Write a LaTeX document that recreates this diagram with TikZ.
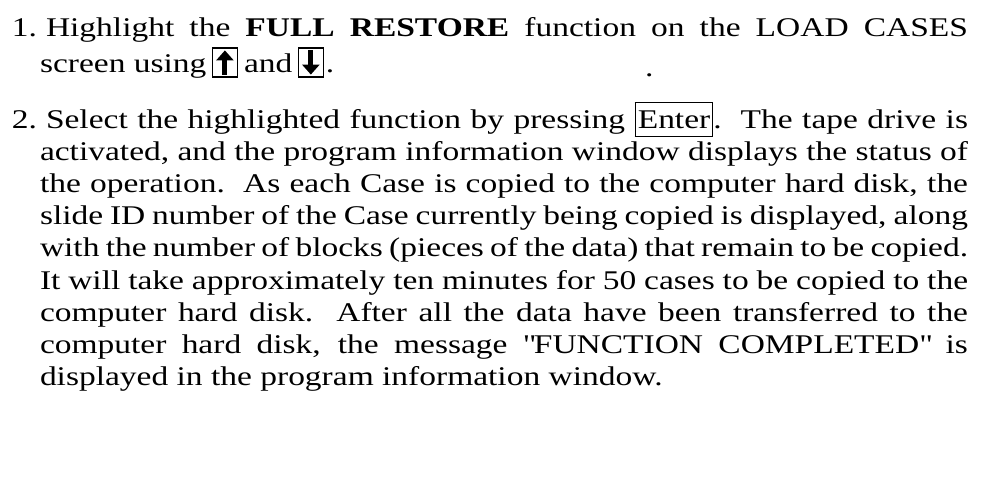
\documentclass[tikz,border=0pt]{standalone}
\usepackage{fontspec}
\setmainfont[FakeStretch=1.24]{Liberation Serif}
\usepackage{tikz}
\usetikzlibrary{arrows.meta,positioning,calc}

\newcommand{\enterkey}{{\setlength{\fboxsep}{2pt}\setlength{\fboxrule}{1.2pt}\fbox{\rule[-6pt]{0pt}{29pt}Enter}}}

\tikzset{
    txtline/.style={inner sep=0pt, outer sep=0pt, anchor=base west, font=\fontsize{27}{32}\selectfont},
    keybox/.style={draw, line width=1.2pt, inner sep=0pt, minimum width=25pt, minimum height=29pt},
    keyarrow/.style={line width=5pt, -{Triangle[width=17pt, length=10pt]}}
}

\begin{document}
\begin{tikzpicture}[x=1pt, y=-1pt]
    \fill[white] (0,0) rectangle (1000,483);

    % Step 1
    \node[txtline] (num1) at (12,36) {1.};
    \node[txtline] (item1) at (46,36) {\makebox[922pt][s]{Highlight the \textbf{FULL RESTORE} function on the LOAD CASES}};
    \node[txtline] (scr) at (40,72) {screen using};
    \node[keybox] (upkey) at ($(scr.base east)+(18.5,-9.5)$) {};
    \draw[keyarrow] ($(upkey.south)+(0,-3)$) -- ($(upkey.north)+(0,3)$);
    \node[txtline] (andw) at ($(upkey.east |- scr.base)+(6,0)$) {and};
    \node[keybox] (downkey) at ($(andw.base east)+(18.5,-9.5)$) {};
    \draw[keyarrow] ($(downkey.north)+(0,3)$) -- ($(downkey.south)+(0,-3)$);
    \node[txtline] (stop1) at ($(downkey.east |- scr.base)+(2,0)$) {.};
    \node[txtline] (speck) at (645,76) {.};

    % Step 2
    \node[txtline] (num2) at (12,128) {2.};
    \node[txtline] (sel) at (46,128) {\makebox[922pt][s]{Select the highlighted function by pressing \enterkey.\ \ The tape drive is}};
    \node[txtline] (act) at (40,160) {\makebox[928pt][s]{activated, and the program information window displays the status of}};
    \node[txtline] (oper) at (40,192) {\makebox[928pt][s]{the operation.\ \ As each Case is copied to the computer hard disk, the}};
    \node[txtline] (slide) at (40,224) {\makebox[928pt][s]{slide ID number of the Case currently being copied is displayed, along}};
    \node[txtline] (blocks) at (40,256) {\makebox[928pt][s]{with the number of blocks (pieces of the data) that remain to be copied.}};
    \node[txtline] (mins) at (40,289) {\makebox[928pt][s]{It will take approximately ten minutes for 50 cases to be copied to the}};
    \node[txtline] (disk) at (40,321) {\makebox[928pt][s]{computer hard disk.\ \ After all the data have been transferred to the}};
    \node[txtline] (msg) at (40,353) {\makebox[928pt][s]{computer hard disk, the message \textquotedbl FUNCTION COMPLETED\textquotedbl\ is}};
    \node[txtline] (shown) at (40,385) {displayed in the program information window.};
\end{tikzpicture}
\end{document}
